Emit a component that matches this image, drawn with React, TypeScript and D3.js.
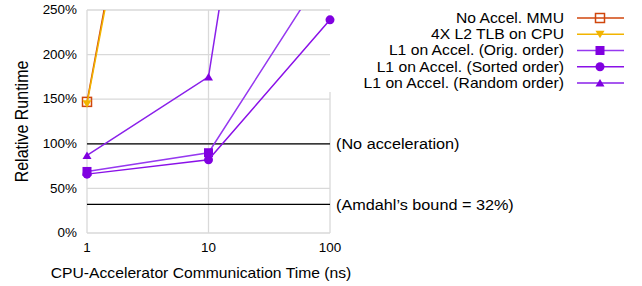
import React from 'react';
import * as d3 from 'd3';

// Communication time (ns) on a log axis
const commTimes = [1, 10, 100];

// Relative runtime (%) per configuration
const noAccelMMU = [147, 880, 7600];
const l2TlbOnCpu = [145, 860, 7400];
const l1Orig = [69, 90, 302];
const l1Sorted = [66, 82, 239];
const l1Random = [87, 175, 1040];

const yTicks = [0, 50, 100, 150, 200, 250];
const xTicks = [1, 10, 100];

const refLines = [
  { value: 100, label: '(No acceleration)' },
  { value: 32, label: '(Amdahl\u2019s bound = 32%)' },
];

type Marker = 'squareOpen' | 'triDown' | 'square' | 'circle' | 'triUp';

const series: { name: string; values: number[]; color: string; line: string; marker: Marker }[] = [
  { name: 'No Accel. MMU', values: noAccelMMU, color: '#d0460c', line: '#d0460c', marker: 'squareOpen' },
  { name: '4X L2 TLB on CPU', values: l2TlbOnCpu, color: '#f2b400', line: '#f2b400', marker: 'triDown' },
  { name: 'L1 on Accel. (Orig. order)', values: l1Orig, color: '#8000e0', line: '#9638f0', marker: 'square' },
  { name: 'L1 on Accel. (Sorted order)', values: l1Sorted, color: '#8000e0', line: '#8a10e8', marker: 'circle' },
  { name: 'L1 on Accel. (Random order)', values: l1Random, color: '#8000e0', line: '#8a20ea', marker: 'triUp' },
];

const FONT = 'Liberation Sans, Arial, sans-serif';
// the original picture is a little wider than tall, so glyphs look stretched
const STRETCH = 1.12;

const SText = ({ x, y, size, anchor = 'start', dy, children }: any) => (
  <text
    transform={`translate(${x},${y}) scale(${STRETCH},1)`}
    dy={dy}
    textAnchor={anchor}
    fontSize={size}
    fill="#000"
  >
    {children}
  </text>
);

const MarkerShape = ({ kind, x, y, color }: { kind: Marker; x: number; y: number; color: string }) => {
  switch (kind) {
    case 'squareOpen':
      return <rect x={x - 4.5} y={y - 4.5} width={9} height={9} fill="none" stroke={color} strokeWidth={1.5} />;
    case 'square':
      return <rect x={x - 4.5} y={y - 4.5} width={9} height={9} fill={color} />;
    case 'circle':
      return <circle cx={x} cy={y} r={4.5} fill={color} />;
    case 'triDown':
      return <path d={`M${x - 4.5},${y - 3.5}L${x + 4.5},${y - 3.5}L${x},${y + 4}Z`} fill={color} />;
    case 'triUp':
      return <path d={`M${x - 4.5},${y + 3.5}L${x + 4.5},${y + 3.5}L${x},${y - 4}Z`} fill={color} />;
  }
};

export default function App() {
  const width = 642;
  const height = 286;
  const plot = { left: 87, right: 330, top: 10, bottom: 233 };

  const x = d3.scaleLog().domain([1, 100]).range([plot.left, plot.right]);
  const y = d3.scaleLinear().domain([0, 250]).range([plot.bottom, plot.top]);

  const line = d3
    .line<number>()
    .x((_, i) => x(commTimes[i]))
    .y((d) => y(d));

  const legendRows = [18, 34.3, 50.5, 66.7, 83];

  return (
    <svg
      width={width}
      height={height}
      style={{ position: 'absolute', left: 0, top: 0, background: '#fff' }}
      fontFamily={FONT}
    >
      <defs>
        <clipPath id="plot-clip">
          <rect x={plot.left - 6} y={plot.top} width={plot.right - plot.left + 12} height={plot.bottom - plot.top + 6} />
        </clipPath>
      </defs>

      {/* grid */}
      {yTicks.map((t) => (
        <line key={'gy' + t} x1={plot.left} x2={plot.right} y1={y(t)} y2={y(t)} stroke="#d9d9d9" strokeWidth={1.3} />
      ))}
      {xTicks.map((t) => (
        <line
          key={'gx' + t}
          x1={x(t)}
          x2={x(t)}
          y1={t === 100 ? 92 : plot.top}
          y2={plot.bottom}
          stroke="#d9d9d9"
          strokeWidth={1.3}
        />
      ))}

      {/* reference lines */}
      {refLines.map((r) => (
        <g key={r.label}>
          <line x1={plot.left} x2={plot.right} y1={y(r.value)} y2={y(r.value)} stroke="#000" strokeWidth={1.3} />
          <SText x={plot.right + 6} y={y(r.value)} dy="0.35em" size={14.5}>
            {r.label}
          </SText>
        </g>
      ))}

      {/* axes labels */}
      {yTicks.map((t) => (
        <SText key={'ty' + t} x={77} y={y(t)} dy="0.35em" anchor="end" size={12}>
          {t}%
        </SText>
      ))}
      {xTicks.map((t) => (
        <SText key={'tx' + t} x={x(t)} y={252} anchor="middle" size={12}>
          {t}
        </SText>
      ))}
      <SText x={201} y={278} anchor="middle" size={14}>
        CPU-Accelerator Communication Time (ns)
      </SText>
      <text
        transform={`translate(28,${(plot.top + plot.bottom) / 2}) scale(${STRETCH},1) rotate(-90)`}
        textAnchor="middle"
        fontSize={16}
        fill="#000"
      >
        Relative Runtime
      </text>

      {/* series */}
      <g clipPath="url(#plot-clip)">
        {series.map((s) => (
          <g key={s.name}>
            <path d={line(s.values) || ''} fill="none" stroke={s.line} strokeWidth={1.5} />
            {s.values.map((v, i) => (
              <MarkerShape key={i} kind={s.marker} x={x(commTimes[i])} y={y(v)} color={s.color} />
            ))}
          </g>
        ))}
      </g>

      {/* legend */}
      {series.map((s, i) => (
        <g key={'lg' + s.name}>
          <SText x={564} y={legendRows[i]} dy="0.35em" anchor="end" size={14}>
            {s.name}
          </SText>
          <line x1={577} x2={624} y1={legendRows[i]} y2={legendRows[i]} stroke={s.line} strokeWidth={1.5} />
          <MarkerShape kind={s.marker} x={600} y={legendRows[i]} color={s.color} />
        </g>
      ))}
    </svg>
  );
}
